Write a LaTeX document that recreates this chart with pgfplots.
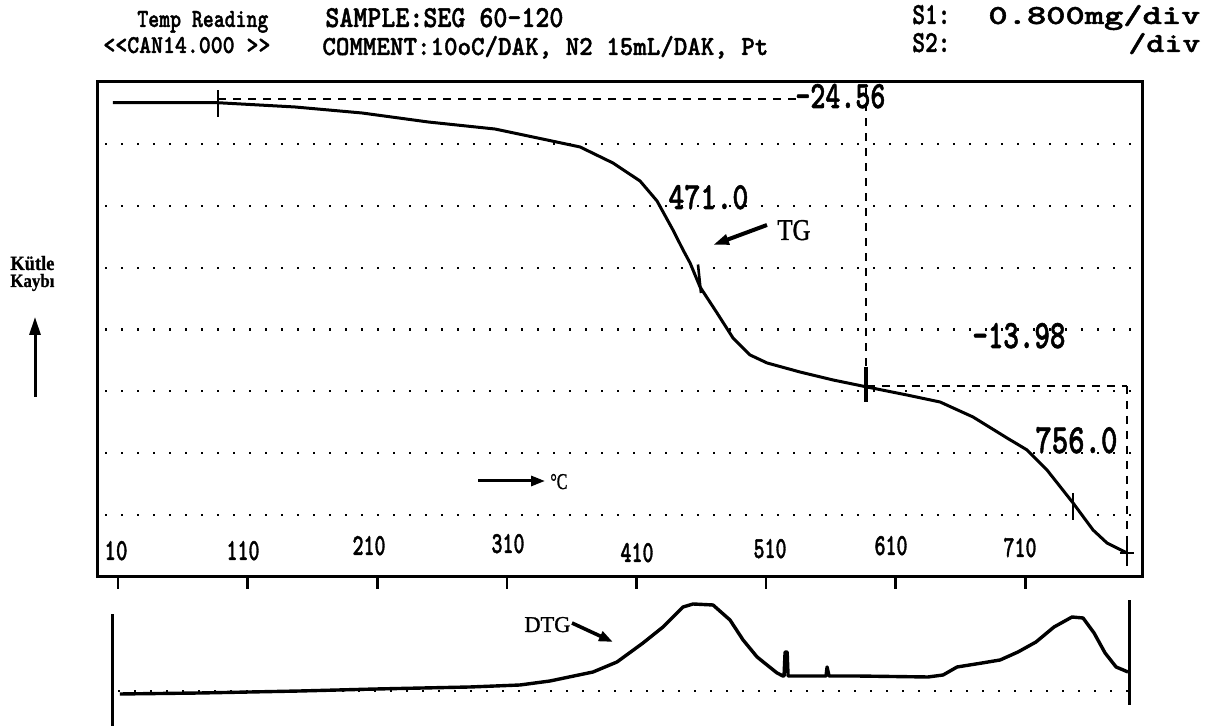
\documentclass[border=0pt]{standalone}
\usepackage{fontspec}
\setmainfont{Liberation Serif}
\newfontfamily\prt{lmmonolt10-bold.otf}[FakeBold=1.5]
\newfontfamily\srf{Liberation Serif}[FakeBold=1.2]
\newfontfamily\srfb{Liberation Serif Bold}[FakeBold=1]
\usepackage{graphicx}
\usepackage{pgfplots}
\pgfplotsset{compat=1.18}
\usetikzlibrary{arrows.meta}
\newlength\pxu \setlength\pxu{0.5pt}
\newcommand{\TX}[6][base west]{\node[anchor=#1,inner sep=0pt] at (#2,#3) {\resizebox{#4\pxu}{#5\pxu}{#6}};}
\pgfplotsset{
  gridd/.style={black,line width=1.1pt,dash pattern=on 1.1pt off 6.9pt},
  dsh/.style={black,line width=1.2pt,dash pattern=on 4pt off 3.5pt},
}
\begin{document}
\begin{tikzpicture}
\useasboundingbox (0,0) rectangle (602.5pt,363pt);
% main TG axis
\begin{axis}[at={(49pt,74.5pt)},anchor=south west,scale only axis,
  width=522pt,height=247.5pt,
  xmin=-5.43,xmax=800.1,ymin=0,ymax=8,
  axis line style={line width=1.5pt},
  xtick={10,110,210,310,410,510,610,710},xticklabel=\empty,ytick=\empty,
  tick align=outside,xtick pos=left,major tick length=6pt,
  every tick/.style={black,line width=1.3pt},
  clip=false]
\pgfplotsinvokeforeach{1,...,7}{\addplot[gridd] coordinates {(0,#1) (795,#1)};}
\addplot[black,line width=1.5pt,line join=round] coordinates {
(6.1,7.665)(87.2,7.665)(146.6,7.596)(198.3,7.499)(249.2,7.354)(300.9,7.240)
(341.0,7.063)(366.5,6.950)(391.9,6.691)(412.8,6.400)(425.9,6.077)(438.2,5.608)
(446.0,5.285)(451.4,5.075)(459.1,4.687)(472.2,4.267)(484.5,3.863)(497.7,3.588)
(510.8,3.459)(536.2,3.313)(561.7,3.184)(587.9,3.071)(618.8,2.941)(644.3,2.828)
(669.7,2.586)(696.0,2.246)(711.4,2.053)(726.8,1.729)(746.9,1.196)(762.3,0.760)
(773.1,0.549)(788.5,0.388)};
% annotation lines
\addplot[dsh] coordinates {(87.2,7.725) (536.2,7.725)};
\addplot[dsh] coordinates {(587.2,7.9) (587.2,2.82)};
\addplot[dsh] coordinates {(587.9,3.087) (788.5,3.087)};
\addplot[dsh] coordinates {(788.5,3.087) (788.5,0.275)};
% markers
\addplot[black,line width=1.3pt] coordinates {(87.2,7.87) (87.2,7.43)};
\addplot[black,line width=1.3pt] coordinates {(457.5,5.05) (459.8,4.59)};
\addplot[black,line width=2.4pt] coordinates {(587.2,3.394) (587.2,2.828)};
\addplot[black,line width=1.3pt] coordinates {(746.9,1.358) (746.9,0.921)};
\addplot[black,line width=1.3pt] coordinates {(788.5,0.59) (788.5,0.18)};
\addplot[black,line width=1.3pt] coordinates {(783,0.388) (794,0.388)};
\end{axis}
% DTG axis
\begin{axis}[at={(49pt,0pt)},anchor=south west,scale only axis,
  width=522pt,height=65.5pt,
  xmin=-5.43,xmax=800.1,ymin=0,ymax=131,hide axis,clip=false]
\addplot[black,line width=1.5pt] coordinates {(6,0) (6,112)};
\addplot[black,line width=1.5pt] coordinates {(790.1,21) (790.1,126)};
\addplot[gridd] coordinates {(10,35) (800,35)};
\addplot[black,line width=1.7pt,line join=round] coordinates {
(11.5,32)(73.3,33)(150.4,35)(209.1,37)(281.6,39)(320.2,41)(343.3,45)(376.5,54)
(395.0,64)(415.1,83)(430.5,99)(446.0,119)(453.7,122)(469.1,121)(482.2,106)
(492.3,86)(503.1,69)(518.5,53)(523.1,50)(523.9,50)(524.7,74)(526.3,74)(527.0,50)
(556.3,50)(557.1,59)(558.6,50)(579.4,50)(635.0,49)(646.6,51)(657.4,59)(676.7,63)
(690.6,66)(704.4,74)(718.3,84)(732.2,99)(746.1,109)(754.6,108)(763.1,93)
(771.6,73)(780.1,59)(789.3,54)};
\end{axis}
% texts in pixel coordinates
\begin{scope}[x=0.5pt,y=-0.5pt,shift={(0pt,363pt)}]
\TX{137}{27}{131}{16}{\prt Temp Reading}
\TX{103}{53}{167}{16}{\prt <{}<CAN14.000 >{}>}
\TX{325}{27}{238}{19}{\prt SAMPLE:SEG 60-120}
\TX{322}{55}{446}{19}{\prt COMMENT:10oC/DAK, N2 15mL/DAK, Pt}
\TX{912}{24}{38}{19}{\prt S1:}
\TX{988}{24}{212}{19}{\prt 0.800mg/div}
\TX{912}{52}{38}{19}{\prt S2:}
\TX{1128}{52}{72}{19}{\prt /div}
\TX{795}{108}{90}{24}{\prt -24.56}
\TX{668}{209}{80}{24}{\prt 471.0}
\TX{972}{348}{93}{25}{\prt -13.98}
\TX{1035}{453}{82}{26}{\prt 756.0}
\TX[base]{116}{560}{23}{19}{\prt 10}
\TX[base]{243}{560}{33}{19}{\prt 110}
\TX[base]{369}{555}{33}{19}{\prt 210}
\TX[base]{508}{553}{33}{19}{\prt 310}
\TX[base]{637}{562}{33}{19}{\prt 410}
\TX[base]{770}{558}{33}{19}{\prt 510}
\TX[base]{891}{555}{33}{19}{\prt 610}
\TX[base]{1020}{557}{33}{19}{\prt 710}
\TX{777}{240}{33}{20}{\srf TG}
\TX{524}{632}{46}{15}{\srf DTG}
\TX{550}{489}{17}{15}{\srf °C}
\TX{10}{270}{44}{14}{\srfb Kütle}
\TX{10}{287}{44}{13}{\srfb Kaybı}
\draw[black,line width=1.5pt,-{Triangle[length=9pt,width=5.5pt]}] (35,397) -- (35,317);
\draw[black,line width=2pt,-{Triangle[length=8pt,width=5pt]}] (767,225) -- (713,245);
\draw[black,line width=1.8pt,-{Triangle[length=7pt,width=5pt]}] (572,623) -- (613,642);
\draw[black,line width=1.5pt,-{Triangle[length=7pt,width=5pt]}] (478,481) -- (545,481);
\end{scope}
\end{tikzpicture}
\end{document}
